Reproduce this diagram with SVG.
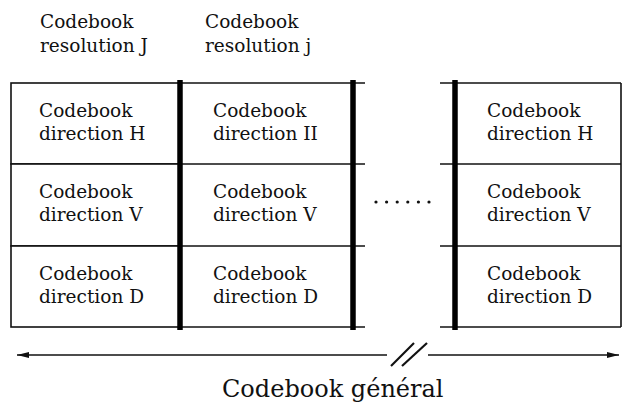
<svg xmlns="http://www.w3.org/2000/svg" width="623" height="402" viewBox="0 0 623 402">
<defs>
<style>
.t{font-family:"DejaVu Serif","Liberation Serif",serif;font-size:18.5px;fill:#111}
.big{font-family:"DejaVu Serif","Liberation Serif",serif;font-size:24px;fill:#111}
.thin{stroke:#111;stroke-width:1.6;fill:none}
.slash{stroke:#111;stroke-width:2.2;fill:none}
.thick{stroke:#000;stroke-width:5.5;fill:none}
.cell{fill:#fff;stroke:#111;stroke-width:1.6}
</style>
<marker id="ah" viewBox="0 0 12 6" refX="12" refY="3" markerWidth="12" markerHeight="6" markerUnits="userSpaceOnUse" orient="auto-start-reverse">
<path d="M0,0 L12,3 L0,6 Z" fill="#111"/>
</marker>
</defs>
<rect width="623" height="402" fill="#fff"/>

<g id="header-J"><text class="t" x="40" y="28">Codebook</text><text class="t" x="40" y="52">resolution J</text></g>
<g id="header-j"><text class="t" x="205" y="28">Codebook</text><text class="t" x="205" y="52">resolution j</text></g>

<g id="col1-H"><rect class="cell" x="11" y="83" width="169" height="81"/><text class="t" x="39" y="117">Codebook</text><text class="t" x="39" y="140">direction H</text></g>
<g id="col1-V"><rect class="cell" x="11" y="164" width="169" height="82"/><text class="t" x="39" y="198">Codebook</text><text class="t" x="39" y="221">direction V</text></g>
<g id="col1-D"><rect class="cell" x="11" y="246" width="169" height="81"/><text class="t" x="39" y="280">Codebook</text><text class="t" x="39" y="303">direction D</text></g>

<g id="col2-H"><line class="thin" x1="180" y1="83" x2="365" y2="83"/><line class="thin" x1="180" y1="164" x2="365" y2="164"/><text class="t" x="213" y="117">Codebook</text><text class="t" x="213" y="140">direction II</text></g>
<g id="col2-V"><line class="thin" x1="180" y1="246" x2="365" y2="246"/><text class="t" x="213" y="198">Codebook</text><text class="t" x="213" y="221">direction V</text></g>
<g id="col2-D"><line class="thin" x1="180" y1="327" x2="365" y2="327"/><text class="t" x="213" y="280">Codebook</text><text class="t" x="213" y="303">direction D</text></g>

<g id="col3-H"><line class="thin" x1="440" y1="83" x2="621" y2="83"/><line class="thin" x1="440" y1="164" x2="621" y2="164"/><line class="thin" x1="621" y1="83" x2="621" y2="327"/><text class="t" x="487" y="117">Codebook</text><text class="t" x="487" y="140">direction H</text></g>
<g id="col3-V"><line class="thin" x1="440" y1="246" x2="621" y2="246"/><text class="t" x="487" y="198">Codebook</text><text class="t" x="487" y="221">direction V</text></g>
<g id="col3-D"><line class="thin" x1="440" y1="327" x2="621" y2="327"/><text class="t" x="487" y="280">Codebook</text><text class="t" x="487" y="303">direction D</text></g>

<g id="separators">
<line class="thick" x1="180" y1="80" x2="180" y2="330"/>
<line class="thick" x1="353" y1="80" x2="353" y2="330"/>
<line class="thick" x1="455" y1="80" x2="455" y2="330"/>
</g>

<g id="ellipsis" fill="#111">
<circle cx="376" cy="202" r="1.6"/><circle cx="386.6" cy="202" r="1.6"/><circle cx="397.2" cy="202" r="1.6"/><circle cx="407.8" cy="202" r="1.6"/><circle cx="418.4" cy="202" r="1.6"/><circle cx="429" cy="202" r="1.6"/>
</g>

<g id="connectors">
<line class="thin" x1="387" y1="355" x2="17" y2="355" marker-end="url(#ah)"/>
<line class="thin" x1="428" y1="355" x2="619" y2="355" marker-end="url(#ah)"/>
<line class="slash" x1="391" y1="366" x2="414" y2="343"/>
<line class="slash" x1="402" y1="366" x2="427" y2="343"/>
</g>

<g id="label-general"><text class="big" x="222" y="397">Codebook général</text></g>
</svg>
